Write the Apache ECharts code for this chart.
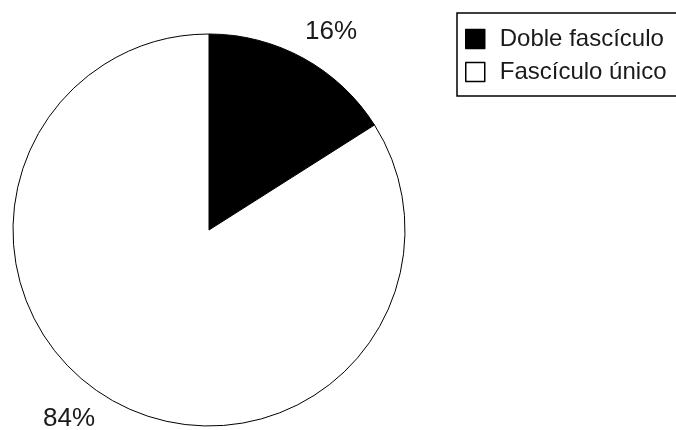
<!DOCTYPE html>
<html>
<head>
<meta charset="utf-8">
<script src="https://cdn.jsdelivr.net/npm/echarts@6/dist/echarts.min.js"></script>
<style>
  html, body { margin: 0; padding: 0; background: #fff; }
  #chart { width: 676px; height: 430px; }
</style>
</head>
<body>
<div id="chart"></div>
<script>
// categorías y valores (%)
const categories = ['Doble fascículo', 'Fascículo único']
const values = [16, 84]
const sliceColors = ['#000000', '#ffffff']
// posición de cada etiqueta de porcentaje
const labelSpots = [[331, 32], [69, 419]]

const chart = echarts.init(document.getElementById('chart'))

const option = {
  animation: false,
  textStyle: { fontFamily: 'Liberation Sans, Arial, sans-serif' },
  legend: {
    data: categories,
    orient: 'vertical',
    left: 457,
    top: 13,
    padding: [14, 30, 12, 8],
    itemGap: 9,
    itemWidth: 19,
    itemHeight: 19,
    icon: 'rect',
    borderColor: '#000',
    borderWidth: 1.5,
    itemStyle: { borderColor: '#000', borderWidth: 1.5 },
    textStyle: {
      fontSize: 24,
      color: '#1a1a1a',
      padding: [0, 0, 0, 10]
    }
  },
  series: [
    {
      type: 'pie',
      center: [209, 230],
      radius: 196,
      startAngle: 90,
      clockwise: true,
      silent: true,
      data: categories.map((name, i) => ({
        name,
        value: values[i],
        itemStyle: { color: sliceColors[i] }
      })),
      itemStyle: { borderColor: '#000', borderWidth: 1 },
      label: {
        show: true,
        position: 'outside',
        formatter: '{c}%',
        fontSize: 26,
        color: '#1a1a1a'
      },
      labelLine: { show: false },
      labelLayout: (params) => ({
        x: labelSpots[params.dataIndex][0],
        y: labelSpots[params.dataIndex][1],
        align: 'center',
        verticalAlign: 'middle'
      })
    }
  ]
}

chart.setOption(option)
</script>
</body>
</html>
